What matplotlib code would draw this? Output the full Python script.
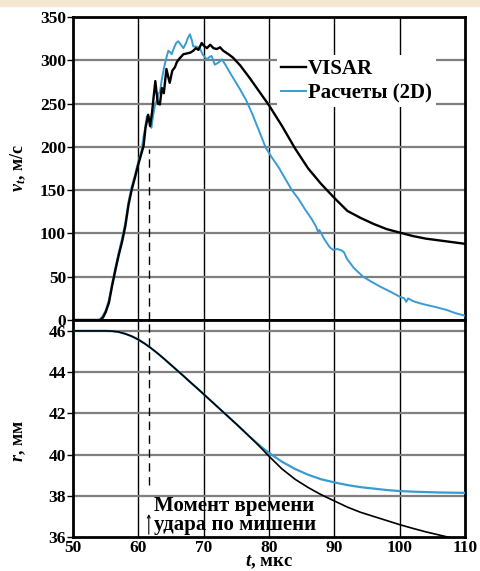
import matplotlib.pyplot as plt
import matplotlib.patches as patches

plt.rcParams['font.family'] = ['Liberation Serif', 'DejaVu Serif']
plt.rcParams['font.weight'] = 'bold'
plt.rcParams['axes.labelweight'] = 'bold'
plt.rcParams['mathtext.fontset'] = 'custom'
plt.rcParams['mathtext.rm'] = 'Liberation Serif:bold'
plt.rcParams['mathtext.bf'] = 'Liberation Serif:bold'
plt.rcParams['mathtext.it'] = 'Liberation Serif:italic:bold'
plt.rcParams['mathtext.bfit'] = 'Liberation Serif:italic:bold'

# скорость, VISAR
t_visar = [50, 54.2, 54.6, 55, 55.5, 56, 56.5, 57, 57.5, 58, 58.5, 59, 59.5, 60, 60.5,
           60.8, 61.1, 61.5, 61.8, 62.1, 62.4, 62.6, 62.8, 63.0, 63.3, 63.6, 63.9, 64.3,
           64.6, 64.8, 65.2, 65.6, 65.9, 66.3, 66.9, 67.5, 68.0, 68.4, 68.8, 69.2, 69.7,
           70.0, 70.5, 71.0, 71.5, 72.0, 72.5, 73.0, 73.8, 74.5, 75.6, 77, 78.5, 80, 82,
           84, 86, 88, 90, 92, 94, 96, 98, 100, 102, 104, 106, 108, 110]
v_visar = [0, 0, 3, 9, 20, 40, 58, 75, 90, 108, 133, 151, 165, 180, 193,
           201, 222, 237, 224, 240, 262, 276, 262, 250, 249, 268, 262, 290,
           280, 274, 288, 292, 298, 302, 307, 308, 309, 311, 314, 312, 320,
           317, 314, 318, 314, 313, 315, 311, 307, 303, 294, 280, 264, 248, 224,
           198, 175, 157, 141, 126, 118, 111, 105, 101, 97, 94, 92, 90, 88]

# скорость, расчет 2D
t_calc = [50, 54.0, 54.5, 55, 55.5, 56, 56.5, 57, 57.5, 58, 58.5, 59, 59.5, 60, 60.5,
          60.8, 61.0, 61.3, 61.5, 61.8, 62, 62.3, 62.6, 62.8, 63.1, 63.3, 63.6, 63.9,
          64.1, 64.4, 64.6, 64.9, 65.1, 65.5, 65.8, 66.1, 66.5, 66.9, 67.3, 67.6, 67.9,
          68.2, 68.4, 68.8, 69.4, 69.9, 70.5, 70.9, 71.2, 71.7, 72.2, 72.8, 73.4, 74,
          74.8, 75.6, 76.5, 77.5, 78.5, 79.5, 80.5, 81.5, 82.5, 83.5, 84.5, 85.5, 86.5,
          87.2, 87.5, 87.7, 88, 88.5, 89.3, 89.8, 90.5, 91.2, 91.5, 91.9, 93, 94.4, 95.5,
          97, 98.5, 100, 100.7, 101, 101.3, 102, 103, 104.1, 105.5, 107.2, 108.5, 110]
v_calc = [0, 0, 4, 11, 23, 43, 61, 78, 94, 112, 137, 154, 168, 183, 196,
          212, 220, 235, 237, 226, 222, 238, 250, 253, 262, 263, 278, 290,
          297, 306, 311, 309, 307, 315, 320, 322, 318, 314, 320, 326, 330,
          323, 316, 316, 314, 306, 301, 304, 305, 295, 297, 301, 294, 286,
          276, 266, 254, 237, 218, 199, 187, 176, 163, 150, 140, 128, 117,
          108, 102, 104, 100, 93, 84, 81, 82, 80, 78, 71, 60, 50, 45,
          38.6, 33, 27, 25, 21, 25, 22, 19.5, 17.4, 15, 11.6, 8, 5]

# радиус
t_r = [50, 55, 56, 57, 58, 59, 60, 61, 62, 63, 64, 65, 66, 67, 68, 69, 70, 71, 72, 73,
       74, 75, 76, 77, 78, 79, 80, 82, 84, 86, 88, 90, 92, 94, 96, 98, 100, 102, 104,
       106, 108, 110]
r_visar = [46, 46, 45.99, 45.95, 45.86, 45.74, 45.58, 45.38, 45.15, 44.9, 44.63, 44.35,
           44.07, 43.79, 43.5, 43.22, 42.93, 42.64, 42.35, 42.06, 41.77, 41.48, 41.18, 40.88,
           40.57, 40.25, 39.92, 39.3, 38.8, 38.4, 38.05, 37.75, 37.45, 37.2, 37.0, 36.8,
           36.6, 36.42, 36.25, 36.1, 35.95, 35.8]
r_calc = [46, 46, 45.99, 45.95, 45.86, 45.74, 45.58, 45.38, 45.15, 44.9, 44.63, 44.35,
          44.07, 43.79, 43.5, 43.22, 42.93, 42.64, 42.35, 42.06, 41.77, 41.48, 41.18, 40.88,
          40.6, 40.33, 40.08, 39.65, 39.3, 39.02, 38.8, 38.65, 38.52, 38.42, 38.35, 38.28,
          38.23, 38.2, 38.18, 38.16, 38.15, 38.14]

t_impact = 61.6
blue = '#3a9bd2'

fig = plt.figure(figsize=(4.81, 5.71), dpi=100)
fig.patches.append(patches.Rectangle((0, 1 - 6 / 571), 1, 6 / 571, transform=fig.transFigure,
                                     color='#f6e7d4', zorder=-1))

left, right = 73 / 481, 465 / 481
ax1 = fig.add_axes([left, 1 - 320 / 571, right - left, 303 / 571])
ax2 = fig.add_axes([left, 1 - 537 / 571, right - left, 217 / 571], sharex=ax1)

for ax in (ax1, ax2):
    for s in ax.spines.values():
        s.set_linewidth(2)
    ax.tick_params(axis='y', length=4, width=1, direction='out', labelsize=12.5, pad=1)
    ax.tick_params(axis='x', length=0, labelsize=12.5, pad=2)
    for x in [60, 70, 80, 90, 100]:
        ax.axvline(x, color='black', lw=1, zorder=1)

ax1.set_xlim(50, 110)
ax1.set_ylim(0, 350)
ax1.set_yticks(range(0, 351, 50))
for y in range(50, 301, 50):
    ax1.axhline(y, color='#7f7f7f', lw=1.6, zorder=1)
ax1.plot(t_calc, v_calc, color=blue, lw=1.4, label='Расчеты (2D)', zorder=3)
ax1.plot(t_visar, v_visar, color='black', lw=1.7, label='VISAR', zorder=4)
ax1.tick_params(axis='x', labelbottom=False)
ax1.axvline(t_impact, ymin=0, ymax=198 / 350, color='black', lw=1, ls=(0, (6, 4)), zorder=2)
ax1.set_ylabel(r'$\mathbfit{v_t}$, м/с', fontsize=13, fontweight='bold')
ax1.yaxis.set_label_coords(-0.115, 0.5)

h, l = ax1.get_legend_handles_labels()
leg = ax1.legend(h[::-1], l[::-1], loc='upper left', bbox_to_anchor=(0.52, 0.875),
                 frameon=True, fontsize=15, handlelength=1.2, handletextpad=0.1,
                 labelspacing=0.2, borderpad=0.2, borderaxespad=0)
leg.get_frame().set_edgecolor('none')
leg.get_frame().set_alpha(1)
leg.get_frame().set_boxstyle('square', pad=0)

ax2.set_ylim(36, 46.53)
ax2.set_yticks(range(36, 47, 2))
for y in range(38, 47, 2):
    ax2.axhline(y, color='#7f7f7f', lw=1.6, zorder=1)
ax2.plot(t_r, r_calc, color=blue, lw=1.6, zorder=3)
ax2.plot(t_r, r_visar, color='black', lw=1.2, zorder=4)
ax2.set_xticks(range(50, 111, 10))
ax2.axvline(t_impact, ymin=(38.5 - 36) / 10.53, ymax=1, color='black', lw=1, ls=(0, (6, 4)), zorder=2)
ax2.annotate('', xy=(t_impact, 37.25), xytext=(t_impact, 36),
             arrowprops=dict(arrowstyle='->', lw=0.8, color='black', mutation_scale=5))
ax2.text(62.4, 37.05, 'Момент времени\nудара по мишени', fontsize=15, va='center',
         ha='left', linespacing=0.9, zorder=5)
ax2.set_ylabel(r'$\mathbfit{r}$, мм', fontsize=13, fontweight='bold')
ax2.yaxis.set_label_coords(-0.115, 0.44)
ax2.set_xlabel(r'$\mathbfit{t}$, мкс', fontsize=13.5, fontweight='bold', labelpad=-1.5)

fig.savefig('out.png', dpi=100)
